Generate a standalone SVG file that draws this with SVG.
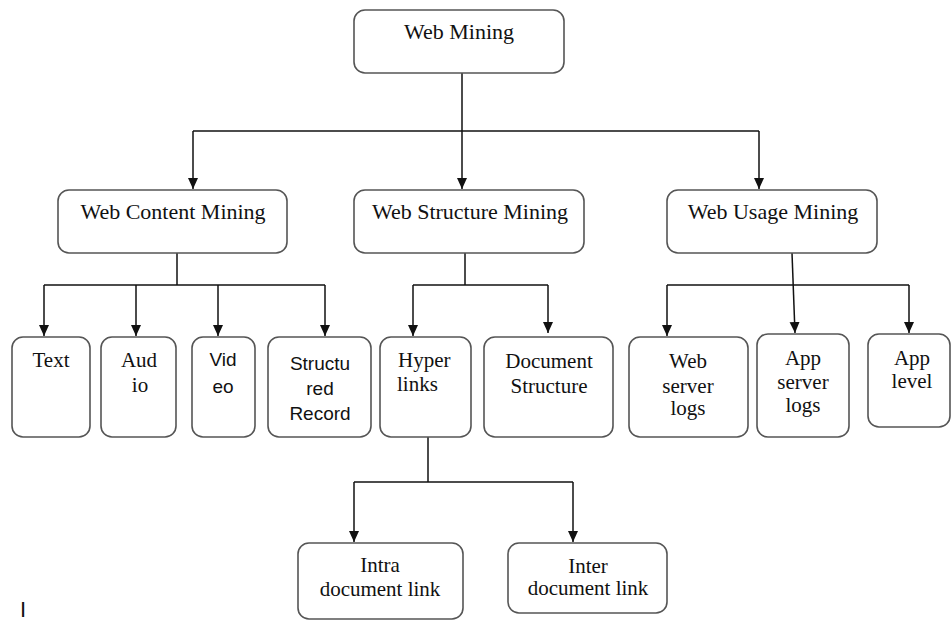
<svg xmlns="http://www.w3.org/2000/svg" width="951" height="622" viewBox="0 0 951 622">
<style>
.box{fill:#fff;stroke:#555;stroke-width:1.6}
.ln{fill:none;stroke:#111;stroke-width:1.5}
.t{font-family:"Liberation Serif","Times New Roman",serif;font-size:21px;fill:#111;text-anchor:middle}
.tl{font-family:"Liberation Serif","Times New Roman",serif;font-size:22px;fill:#111;text-anchor:middle}
.s{font-family:"Liberation Sans",Arial,sans-serif;font-size:19px;fill:#111;text-anchor:middle}
</style>
<defs>
<marker id="ah" markerUnits="userSpaceOnUse" markerWidth="12" markerHeight="12" viewBox="0 0 12 12" refX="11" refY="6" orient="auto">
<path d="M0,1 L11,6 L0,11 Z" fill="#111"/>
</marker>
</defs>
<g id="connectors">
<path class="ln" d="M462,73 V189" marker-end="url(#ah)"/>
<path class="ln" d="M193,131 H759"/>
<path class="ln" d="M193,131 V189" marker-end="url(#ah)"/>
<path class="ln" d="M759,131 V189" marker-end="url(#ah)"/>
<path class="ln" d="M177,253 V285"/>
<path class="ln" d="M44,285 H325"/>
<path class="ln" d="M44,285 V336" marker-end="url(#ah)"/>
<path class="ln" d="M136,285 V336" marker-end="url(#ah)"/>
<path class="ln" d="M218,285 V336" marker-end="url(#ah)"/>
<path class="ln" d="M325,285 V336" marker-end="url(#ah)"/>
<path class="ln" d="M465,253 V285"/>
<path class="ln" d="M413,285 H548"/>
<path class="ln" d="M413,285 V336" marker-end="url(#ah)"/>
<path class="ln" d="M548,285 V333" marker-end="url(#ah)"/>
<path class="ln" d="M792,253 L795,333" marker-end="url(#ah)"/>
<path class="ln" d="M667,285 H909"/>
<path class="ln" d="M667,285 V336" marker-end="url(#ah)"/>
<path class="ln" d="M909,285 V333" marker-end="url(#ah)"/>
<path class="ln" d="M428,437 V482"/>
<path class="ln" d="M354,482 H573"/>
<path class="ln" d="M354,482 V542" marker-end="url(#ah)"/>
<path class="ln" d="M573,482 V542" marker-end="url(#ah)"/>
</g>
<g id="web-mining"><rect class="box" x="354" y="10" width="210" height="63" rx="11"/><text class="tl" x="459" y="39">Web Mining</text></g>
<g id="web-content-mining"><rect class="box" x="58" y="190" width="229" height="63" rx="11"/><text class="tl" x="173" y="219">Web Content Mining</text></g>
<g id="web-structure-mining"><rect class="box" x="354" y="190" width="230" height="63" rx="11"/><text class="tl" x="470" y="219">Web Structure Mining</text></g>
<g id="web-usage-mining"><rect class="box" x="667" y="190" width="210" height="63" rx="11"/><text class="tl" x="773" y="219">Web Usage Mining</text></g>
<g id="text"><rect class="box" x="12" y="337" width="78" height="100" rx="11"/><text class="t" x="51" y="367">Text</text></g>
<g id="audio"><rect class="box" x="101" y="337" width="75" height="100" rx="11"/><text class="t" x="139" y="367">Aud</text><text class="t" x="140" y="392">io</text></g>
<g id="video"><rect class="box" x="192" y="337" width="63" height="100" rx="11"/><text class="s" x="223" y="366">Vid</text><text class="s" x="223" y="393">eo</text></g>
<g id="structured-record"><rect class="box" x="268" y="337" width="103" height="100" rx="11"/><text class="s" x="320" y="370">Structu</text><text class="s" x="320" y="395">red</text><text class="s" x="320" y="420">Record</text></g>
<g id="hyperlinks"><rect class="box" x="380" y="337" width="91" height="100" rx="11"/><text class="t" x="398" y="367" style="text-anchor:start">Hyper</text><text class="t" x="397" y="391" style="text-anchor:start">links</text></g>
<g id="document-structure"><rect class="box" x="484" y="337" width="129" height="100" rx="11"/><text class="t" x="549" y="368">Document</text><text class="t" x="549" y="393">Structure</text></g>
<g id="web-server-logs"><rect class="box" x="629" y="337" width="119" height="100" rx="11"/><text class="t" x="688" y="368">Web</text><text class="t" x="688" y="393">server</text><text class="t" x="688" y="415">logs</text></g>
<g id="app-server-logs"><rect class="box" x="757" y="334" width="92" height="103" rx="11"/><text class="t" x="803" y="365">App</text><text class="t" x="803" y="389">server</text><text class="t" x="803" y="412">logs</text></g>
<g id="app-level"><rect class="box" x="868" y="334" width="82" height="93" rx="11"/><text class="t" x="912" y="365">App</text><text class="t" x="912" y="388">level</text></g>
<g id="intra-document-link"><rect class="box" x="298" y="543" width="165" height="76" rx="11"/><text class="t" x="380" y="572">Intra</text><text class="t" x="380" y="596">document link</text></g>
<g id="inter-document-link"><rect class="box" x="508" y="543" width="159" height="70" rx="11"/><text class="t" x="588" y="573">Inter</text><text class="t" x="588" y="595">document link</text></g>
<text x="20" y="617" style="font-family:'Liberation Sans',Arial,sans-serif;font-size:22px;fill:#111">I</text>
</svg>
